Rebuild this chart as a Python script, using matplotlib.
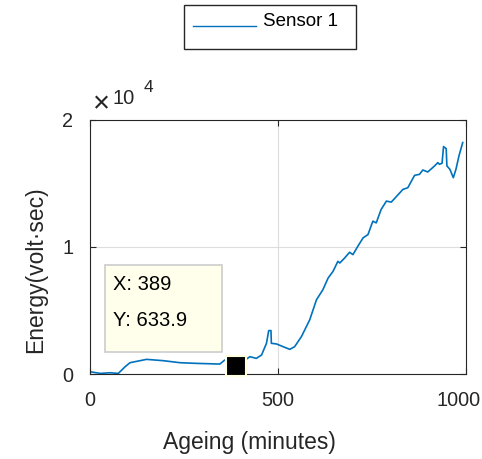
import matplotlib
matplotlib.use("Agg")
import matplotlib.pyplot as plt
import matplotlib.transforms as mtransforms
from matplotlib.patches import Rectangle
from matplotlib.lines import Line2D

plt.rcParams["font.family"] = ["Liberation Sans", "DejaVu Sans"]

# Sensor 1 energy trace
ageing_min = [0, 27, 53, 75, 93, 106, 150, 195, 239, 283, 345, 358, 389, 425, 442,
              456, 469, 475, 481, 482, 496, 513, 531, 544, 562, 584, 602, 619, 633,
              646, 659, 664, 677, 690, 699, 712, 726, 739, 752, 761, 774, 788, 801,
              832, 845, 863, 876, 885, 898, 916, 925, 929, 936, 940, 947, 949, 957,
              966, 973, 981, 991]
energy = [184, 53, 105, 53, 579, 895, 1158, 1053, 895, 842, 789, 1105, 633.9, 1368,
          1237, 1500, 2421, 3421, 3421, 2421, 2368, 2158, 1947, 2158, 2947, 4263,
          5842, 6632, 7553, 8079, 8868, 8737, 9132, 9579, 9395, 10053, 10711, 10974,
          12026, 11895, 12947, 13605, 13526, 14526, 14658, 15632, 15711, 16053,
          15895, 16368, 16632, 16500, 16580, 17895, 17737, 16368, 16105, 15447,
          16105, 17158, 18211]

cursor_x = 389
cursor_y = 633.9

x_ticks = [0, 500, 1000]
y_ticks = [0, 10000, 20000]
y_tick_labels = ["0", "1", "2"]

BLUE = "#0072BD"
DARK = "#262626"

fig = plt.figure(figsize=(4.82, 4.59), dpi=100)
ax = fig.add_axes([0.187, 0.185, 0.780, 0.554])
ax.plot(ageing_min, energy, color=BLUE, lw=1.2)
ax.plot(cursor_x, cursor_y, "s", color="black", ms=14, mec="#FFFFE0", mew=1.5,
        zorder=5, clip_on=False)

ax.set_xlim(0, 1000)
ax.set_ylim(0, 20000)
ax.set_xticks(x_ticks)
ax.set_yticks(y_ticks)
ax.set_yticklabels(y_tick_labels)
ax.tick_params(direction="in", top=True, right=True, labelsize=14.3, length=4,
               color=DARK, labelcolor=DARK, pad=12)
# keep the last x label inside the figure, as in the reference
last = ax.get_xticklabels()[-1]
last.set_transform(last.get_transform()
                   + mtransforms.ScaledTranslation(-8 / 100, 0, fig.dpi_scale_trans))
ax.grid(True, color="#DDDDDD", lw=0.8)
for s in ax.spines.values():
    s.set_color(DARK)
ax.set_xlabel("Ageing (minutes)", fontsize=16.5, color=DARK, va="center")
ax.xaxis.set_label_coords(0.424, -0.268)
ax.set_ylabel("Energy(volt·sec)", fontsize=16.5, color=DARK, va="center")
ax.yaxis.set_label_coords(-55 / 376, 0.409)

# x10^4 exponent
fig.text(101 / 482, 1 - 104 / 459, "×", fontsize=21, color=DARK, ha="center",
         va="center")
fig.text(112 / 482, 1 - 98 / 459, "10", fontsize=14.5, color=DARK, ha="left",
         va="center")
fig.text(144 / 482, 1 - 87 / 459, "4", fontsize=12.5, color=DARK, ha="left",
         va="center")

# data tip
fig.patches.append(Rectangle((105 / 482, 1 - 352 / 459), 117 / 482, 87 / 459,
                             transform=fig.transFigure, facecolor="#FFFFEB",
                             edgecolor="#CCCCCC", lw=1.2, zorder=6))
fig.text(113 / 482, 1 - 285 / 459, f"X: {cursor_x}", fontsize=14.5, va="center",
         color="black", zorder=7)
fig.text(113 / 482, 1 - 321 / 459, f"Y: {cursor_y}", fontsize=14.5, va="center",
         color="black", zorder=7)

# legend box at top
fig.patches.append(Rectangle((184 / 482, 1 - 49 / 459), 172 / 482, 44 / 459,
                             transform=fig.transFigure, facecolor="white",
                             edgecolor=DARK, lw=1.0))
fig.lines.append(Line2D([193 / 482, 256 / 482], [1 - 26 / 459, 1 - 26 / 459],
                        transform=fig.transFigure, color=BLUE, lw=1.0))
fig.text(263 / 482, 1 - 22 / 459, "Sensor 1", fontsize=13.5, va="center",
         color="black")

fig.savefig("out.png", dpi=100)
